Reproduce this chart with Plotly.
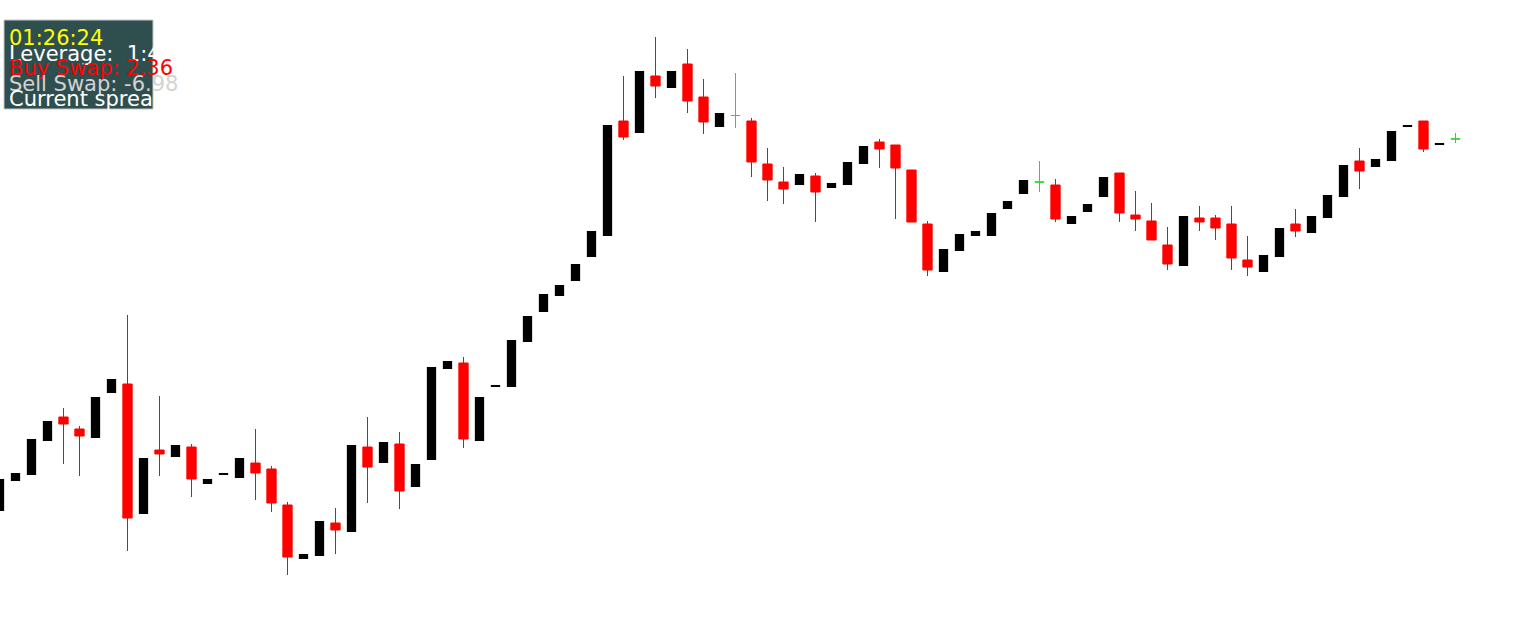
import plotly.graph_objects as go

# ---- candle data (bar index, open, high, low, close) ----
bar_index = list(range(92))

open_ = [120, 150, 156, 190, 214, 202, 193, 238, 247, 117,
         181, 174, 184, 147, 156, 153, 168, 162, 126, 72,
         75, 108, 99, 184, 168, 187, 144, 171, 262, 268,
         190, 244, 244, 289, 319, 335, 350, 374, 395, 510,
         498, 555, 543, 567, 534, 504, 515.5, 510, 467, 449,
         446, 455, 443, 446, 467, 489, 486, 461, 407, 359,
         380, 395, 395, 422, 437, 449, 446, 407, 419, 434,
         458, 416, 410, 386, 365, 413, 413, 407, 371, 359,
         374, 407, 398, 413, 434, 470, 464, 470, 504, 510,
         486, 492]

high = [152, 158, 192, 210, 223, 205, 234, 252, 316, 173,
        235, 186, 187, 152, 158, 173, 202, 165, 129, 77,
        110, 123, 186, 214, 189, 199, 167, 264, 270, 274,
        234, 246, 291, 315, 337, 346, 367, 400, 506, 555,
        560, 594, 560, 582, 552, 518, 558, 513, 483, 464,
        457, 458, 448, 469, 485, 492, 486, 461, 410, 382,
        397, 400, 418, 430, 451, 470, 452, 415, 427, 454,
        458, 440, 428, 404, 415, 425, 416, 425, 395, 376,
        403, 422, 415, 436, 466, 483, 472, 500, 506, 510,
        488, 498]

low = [120, 150, 156, 190, 167, 155, 193, 238, 80, 117,
       155, 174, 134, 147, 156, 153, 131, 119, 56, 72,
       75, 77, 99, 128, 168, 122, 144, 171, 262, 183,
       190, 244, 244, 289, 319, 335, 350, 374, 395, 491,
       498, 533, 543, 518, 497, 504, 503, 454, 430, 427,
       446, 409, 443, 446, 467, 463, 412, 409, 355, 359,
       380, 395, 395, 422, 437, 439, 409, 407, 419, 434,
       409, 400, 391, 361, 365, 400, 391, 361, 355, 359,
       374, 394, 398, 413, 434, 442, 464, 470, 504, 479,
       486, 488]

close = [152, 158, 192, 210, 207, 195, 234, 252, 113, 173,
         177, 186, 152, 152, 158, 173, 158, 128, 74, 77,
         110, 101, 186, 164, 189, 140, 167, 264, 270, 192,
         234, 246, 291, 315, 337, 346, 367, 400, 506, 494,
         560, 545, 560, 530, 509, 518, 515.5, 469, 451, 442,
         457, 439, 448, 469, 485, 482, 463, 409, 361, 382,
         397, 400, 418, 430, 451, 449, 412, 415, 427, 454,
         418, 412, 391, 367, 415, 409, 403, 373, 364, 376,
         403, 400, 415, 436, 466, 460, 472, 500, 506, 482,
         488, 492]

info_lines = ["01:26:24", "Leverage:\u00a0 1:400", "Buy Swap: 2.36",
              "Sell Swap: -6.98", "Current spread: 2"]
info_colors = ["#FFFF00", "#FFFFFF", "#FF0000", "#D3D3D3", "#FFFFFF"]

W, H = 1516, 631


def pick(idx, arr):
    return [arr[i] for i in idx]


up = [i for i in bar_index if close[i] > open_[i]]
down = [i for i in bar_index if close[i] < open_[i]]
doji = [i for i in bar_index if close[i] == open_[i]]


def style(color, width):
    return dict(line=dict(color=color, width=width), fillcolor=color)


fig = go.Figure()
for idx, color, lw in [(up, "#000000", 0), (down, "#FF0000", 1), (doji, "#22DD22", 1)]:
    fig.add_trace(go.Candlestick(
        x=pick(idx, bar_index), open=pick(idx, open_), high=pick(idx, high),
        low=pick(idx, low), close=pick(idx, close),
        increasing=style(color, lw), decreasing=style(color, lw),
        whiskerwidth=0, hoverinfo="skip", showlegend=False))

# info panel
fig.add_shape(type="rect", xref="paper", yref="paper",
              x0=4 / W, x1=153 / W, y0=1 - 109 / H, y1=1 - 20 / H,
              fillcolor="#2F4F4F", line=dict(color="#C8C8C8", width=1), layer="above")

centers = [38, 53.5, 68, 83.5, 98.5]
for txt, col, c in zip(info_lines, info_colors, centers):
    fig.add_annotation(xref="paper", yref="paper", x=8 / W, y=1 - c / H,
                       xanchor="left", yanchor="middle", showarrow=False,
                       text=txt, font=dict(family="DejaVu Sans", size=21, color=col),
                       borderpad=0)

fig.update_layout(
    width=W, height=H, margin=dict(l=0, r=0, t=0, b=0),
    paper_bgcolor="white", plot_bgcolor="white",
    boxgap=0.42, boxgroupgap=0, boxmode="overlay",
    xaxis=dict(visible=False, range=[0.03125, 94.78125], rangeslider=dict(visible=False)),
    yaxis=dict(visible=False, range=[0, H]),
    showlegend=False,
)

fig.write_html("out.html", config={"displayModeBar": False},
               post_script="document.body.style.margin='0px';document.body.style.overflow='hidden';")
